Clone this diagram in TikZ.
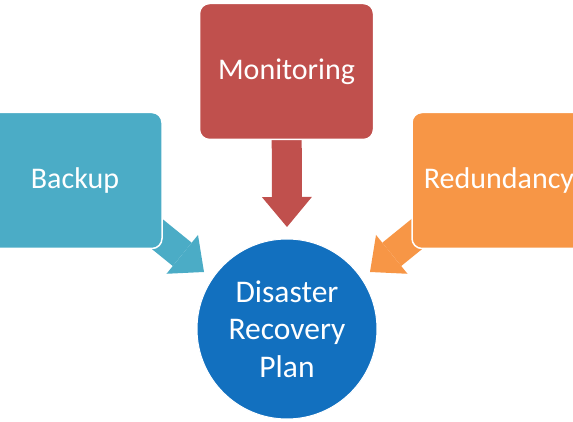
\documentclass[tikz,border=0pt]{standalone}
\usepackage{fontspec}
\setmainfont{Carlito}
\usetikzlibrary{calc,backgrounds}
\definecolor{cteal}{HTML}{4BACC6}
\definecolor{cred}{HTML}{C0504D}
\definecolor{corange}{HTML}{F79646}
\definecolor{cblue}{HTML}{1270BF}
\begin{document}
\begin{tikzpicture}[x=1pt,y=-1pt,
  box/.style={rectangle, rounded corners=10pt, draw=white, line width=1.5pt,
    minimum width=174pt, minimum height=136pt, inner sep=0pt, text=white,
    font=\fontsize{30}{36}\selectfont},
  hub/.style={circle, draw=white, line width=1pt, fill=cblue, minimum size=180pt,
    inner sep=0pt, text=white, align=center, font=\fontsize{31.5}{37.5}\selectfont},
  shaft/.style={line width=30pt, line cap=butt}]
\useasboundingbox (0,0) rectangle (573,422);
\clip (0,0) rectangle (573,422);

\node[box, fill=cteal] (backup) at (75,180.5) {Backup};
\node[box, fill=cred] (mon) at (286.5,71.5) {Monitoring};
\node[box, fill=corange] (red) at (499,180.5) {Redundancy};
\node[hub] (plan) at (287,329) {Disaster\\Recovery\\Plan};

\coordinate (tipB) at ($(plan.center)+(-83,-57)$);
\coordinate (tipM) at ($(plan.center)+(0,-102)$);
\coordinate (tipR) at ($(plan.center)+(83,-57)$);
\coordinate (srcB) at ($(backup.center)+(10,-5)$);
\coordinate (srcR) at ($(red.center)+(-10,-5)$);

\begin{scope}[on background layer]
  % Monitoring arrow
  \coordinate (hbM) at ($(tipM)!30pt!(mon.center)$);
  \draw[shaft, cred] (mon.center) -- (hbM);
  \fill[cred] ($(hbM)!25pt!90:(tipM)$) -- (tipM) -- ($(hbM)!25pt!-90:(tipM)$) -- cycle;
  % Backup arrow
  \coordinate (hbB) at ($(tipB)!28pt!(srcB)$);
  \draw[shaft, cteal] (srcB) -- (hbB);
  \fill[cteal] ($(hbB)!25pt!90:(tipB)$) -- (tipB) -- ($(hbB)!25pt!-90:(tipB)$) -- cycle;
  % Redundancy arrow
  \coordinate (hbR) at ($(tipR)!28pt!(srcR)$);
  \draw[shaft, corange] (srcR) -- (hbR);
  \fill[corange] ($(hbR)!25pt!90:(tipR)$) -- (tipR) -- ($(hbR)!25pt!-90:(tipR)$) -- cycle;
\end{scope}
\end{tikzpicture}
\end{document}
